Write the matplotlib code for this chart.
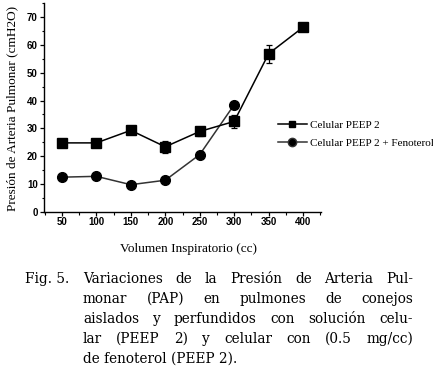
import matplotlib
matplotlib.use("Agg")
import matplotlib.pyplot as plt
from matplotlib.ticker import MultipleLocator
from matplotlib.lines import Line2D

volumes = [50, 100, 150, 200, 250, 300, 350, 400]
celular = [24.8, 24.8, 29.3, 23.4, 28.9, 32.5, 56.8, 66.3]
celular_err = [0.8, 0.8, 0.6, 2.2, 1.6, 2.3, 3.3, 0.9]
feno_vol = [50, 100, 150, 200, 250, 300]
fenoterol = [12.5, 12.8, 9.8, 11.4, 20.6, 38.5]
labels = ["Celular PEEP 2", "Celular PEEP 2 + Fenoterol"]
xlabel = "Volumen Inspiratorio (cc)"
ylabel = "Presión de Arteria Pulmonar (cmH2O)"
caption_tag = "Fig. 5."
caption_lines = [
    "Variaciones de la Presión de Arteria Pul-",
    "monar (PAP) en pulmones de conejos",
    "aislados y perfundidos con solución celu-",
    "lar (PEEP 2) y celular con (0.5 mg/cc)",
    "de fenoterol (PEEP 2).",
]

W, H = 433, 366
fig = plt.figure(figsize=(W / 100, H / 100), dpi=100)
ax = fig.add_axes([44 / W, 1 - 212 / H, (321 - 44) / W, (212 - 3) / H])

ax.errorbar(volumes, celular, yerr=celular_err, color="black", lw=1.1,
            marker="s", markersize=6.5, capsize=2, elinewidth=0.9, capthick=0.9)
ax.plot(feno_vol, fenoterol, color="#333333", lw=1.1, marker="o",
        markersize=7, markerfacecolor="black", markeredgecolor="black")

ax.set_xlim(24, 426)
ax.set_ylim(0, 75)
ax.set_xticks([50, 100, 150, 200, 250, 300, 350, 400])
ax.set_yticks([0, 10, 20, 30, 40, 50, 60, 70])
ax.xaxis.set_minor_locator(MultipleLocator(25))
ax.yaxis.set_minor_locator(MultipleLocator(5))
for s in ["top", "right"]:
    ax.spines[s].set_visible(False)
for s in ["left", "bottom"]:
    ax.spines[s].set_linewidth(1.0)
ax.tick_params(which="major", direction="out", length=3, width=0.9, pad=1.5,
               labelsize=7)
ax.tick_params(axis="x", which="major", pad=0.5)
ax.tick_params(which="minor", direction="out", length=1.8, width=0.8)
for lab in ax.get_xticklabels() + ax.get_yticklabels():
    lab.set_fontweight("bold")
    lab.set_family("Liberation Sans")

serif = "Liberation Serif"
fig.text(12 / W, 1 - 108 / H, ylabel, rotation=90, ha="center", va="center",
         family=serif, fontsize=9.5)
fig.text(188 / W, 1 - 249 / H, xlabel, ha="center", va="center",
         family=serif, fontsize=9.5)

handles = [
    Line2D([], [], color="black", lw=1.1, marker="s", markersize=5),
    Line2D([], [], color="#333333", lw=1.1, marker="o", markersize=6,
           markerfacecolor="black"),
]
fig.legend(handles, labels, loc="center left",
           bbox_to_anchor=(278 / W, 1 - 134 / H), frameon=False,
           prop={"family": serif, "size": 8}, handlelength=2.6,
           handletextpad=0.25, labelspacing=0.7, borderpad=0, borderaxespad=0)

# caption
cap_family = "DejaVu Serif"
cap_size = 9.8
fig.text(25 / W, 1 - 279 / H, caption_tag, ha="left", va="center",
         family=cap_family, fontsize=cap_size)
renderer = fig.canvas.get_renderer()
x0, x1 = 83, 413
for i, line in enumerate(caption_lines):
    y = 1 - (279 + 20 * i) / H
    if i == len(caption_lines) - 1:
        fig.text(x0 / W, y, line, ha="left", va="center", family=cap_family,
                 fontsize=cap_size)
        continue
    words = line.split(" ")
    texts = [fig.text(0, y, w, ha="left", va="center", family=cap_family,
                      fontsize=cap_size) for w in words]
    widths = [t.get_window_extent(renderer).width for t in texts]
    gap = (x1 - x0 - sum(widths)) / (len(words) - 1)
    x = x0
    for t, w in zip(texts, widths):
        t.set_x(x / W)
        x += w + gap

fig.savefig("out.png", dpi=100)
